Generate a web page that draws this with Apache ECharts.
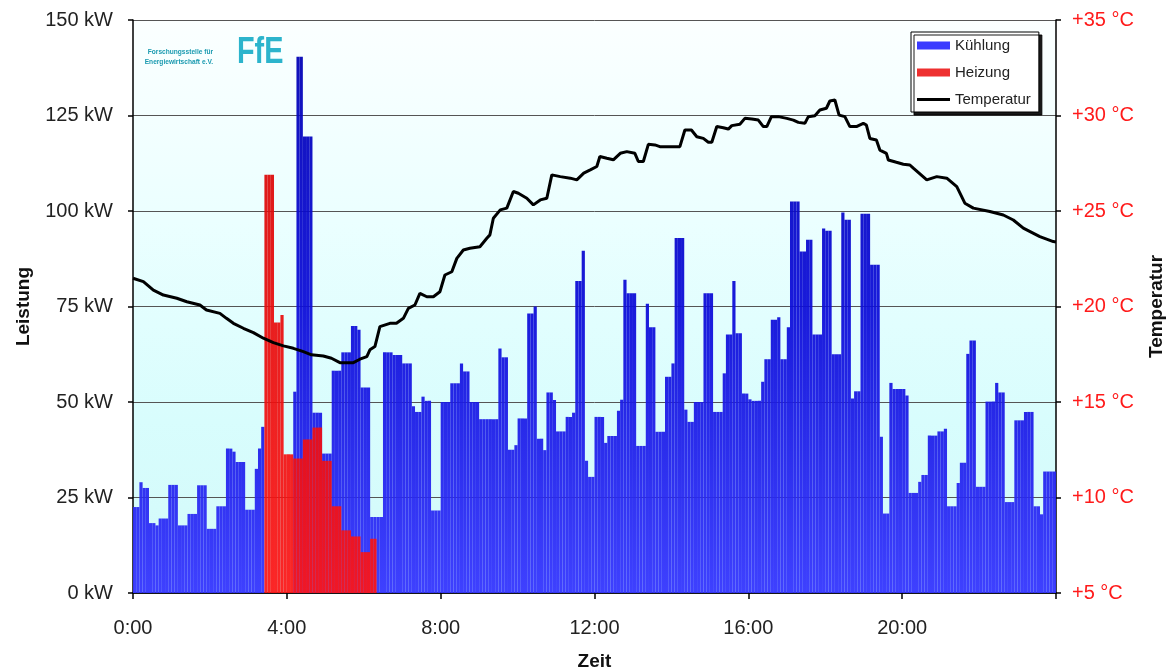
<!DOCTYPE html>
<html><head><meta charset="utf-8">
<script src="https://cdn.jsdelivr.net/npm/echarts/dist/echarts.min.js"></script>
<style>html,body{margin:0;padding:0;background:#fff}#c{width:1171px;height:672px}</style>
</head><body><div id="c"></div>
<script>
// 5-minute slots, 288 per day (one row = one hour); null = hidden behind heating bars
const kuehlung = [
  22.5,22.5,29,27.5,27.5,18.3,18.3,17.7,19.5,19.5,19.5,28.3,
  28.3,28.3,17.7,17.7,17.7,20.7,20.7,20.7,28.2,28.2,28.2,16.8,
  16.8,16.8,22.7,22.7,22.7,37.8,37.8,37,34.3,34.3,34.3,21.8,
  21.8,21.8,32.5,37.8,43.5,null,null,null,null,null,null,null,
  null,null,52.7,140.4,140.4,119.5,119.5,119.5,47.2,47.2,47.2,36.5,
  36.5,36.5,58.2,58.2,58.2,63,63,63,69.9,69.9,68.9,53.8,
  53.8,53.8,19.9,19.9,19.9,19.9,63,63,63,62.3,62.3,62.3,
  60.1,60.1,60.1,48.9,47.4,47.4,51.4,50.3,50.3,21.6,21.6,21.6,
  50,50,50,54.9,54.9,54.9,60.1,58,58,50,50,50,
  45.5,45.5,45.5,45.5,45.5,45.5,64,61.7,61.7,37.5,37.5,38.7,
  45.7,45.7,45.7,73.2,73.2,75,40.4,40.4,37.4,52.5,52.5,50.5,
  42.3,42.3,42.3,46.1,46.1,47.2,81.7,81.7,89.6,34.6,30.4,30.4,
  46.1,46.1,46.1,39.3,41.1,41.1,41.1,47.7,50.6,82,78.5,78.5,
  78.5,38.5,38.5,38.5,75.7,69.6,69.6,42.2,42.2,42.2,56.6,56.6,
  60.1,92.9,92.9,92.9,48,44.8,44.8,50,50,50,78.5,78.5,
  78.5,47.4,47.4,47.4,57.5,67.7,67.7,81.7,68,68,52.2,52.2,
  50.7,50.3,50.3,50.3,55.3,61.2,61.2,71.5,71.5,72.2,61.2,61.2,
  69.6,102.5,102.5,102.5,89.4,89.4,92.5,92.5,67.7,67.7,67.7,95.4,
  94.8,94.8,62.5,62.5,62.5,99.6,97.7,97.7,50.9,52.8,52.8,99.3,
  99.3,99.3,85.9,85.9,85.9,40.9,20.8,20.8,55,53.4,53.4,53.4,
  53.4,51.7,26.2,26.2,26.2,29.1,30.9,30.9,41.2,41.2,41.2,42.3,
  42.3,43,22.7,22.7,22.7,28.8,34.1,34.1,62.6,66.1,66.1,27.8,
  27.8,27.8,50.1,50.1,50.1,55,52.5,52.5,23.8,23.8,23.8,45.2,
  45.2,45.2,47.4,47.4,47.4,22.7,22.7,20.6,31.8,31.8,31.8,31.8
];
// Heating only between 3:25 and 6:20 (slot 41 onwards)
const heizungStartSlot = 41;
const heizung = [
  109.5,109.5,109.5,70.8,70.8,72.8,36.3,36.3,36.3,35.2,35.2,35.2,
  40.2,40.2,40.2,43.3,43.3,43.3,34.6,34.6,34.6,22.7,22.7,22.7,
  16.4,16.4,16.4,14.8,14.8,14.8,10.7,10.7,10.7,14.2,14.2
];
// Temperature (hour of day, °C)
const tempHours = [0,0.27,0.53,0.79,1.14,1.40,1.74,1.91,2.26,2.43,2.61,2.87,3.13,3.39,3.65,3.91,4.17,4.43,4.64,4.95,5.16,5.38,5.73,5.90,6.08,6.16,6.29,6.42,6.68,6.85,7.03,7.16,7.33,7.46,7.64,7.81,7.98,8.11,8.29,8.42,8.59,8.76,9.02,9.20,9.28,9.37,9.55,9.72,9.89,10.02,10.24,10.41,10.59,10.76,10.89,11.11,11.37,11.54,11.72,11.89,12.06,12.14,12.32,12.49,12.67,12.84,13.05,13.14,13.27,13.40,13.57,13.70,14.22,14.35,14.52,14.66,14.83,14.96,15.05,15.18,15.35,15.48,15.57,15.78,15.91,16.09,16.26,16.39,16.48,16.60,16.78,17.00,17.17,17.30,17.47,17.56,17.73,17.86,18.03,18.12,18.25,18.36,18.51,18.64,18.81,18.99,19.07,19.16,19.33,19.42,19.59,19.64,19.85,20.03,20.20,20.29,20.64,20.90,21.16,21.42,21.63,21.85,22.28,22.63,22.89,23.15,23.58,23.93,24.00];
const tempValues = [21.48,21.30,20.86,20.60,20.43,20.25,20.08,19.82,19.64,19.38,19.12,18.86,18.63,18.34,18.11,17.94,17.81,17.64,17.47,17.41,17.29,17.06,17.06,17.24,17.38,17.73,17.90,18.95,19.12,19.12,19.38,19.90,20.08,20.69,20.51,20.51,20.77,21.65,21.82,22.52,22.96,23.05,23.13,23.57,23.75,24.62,25.06,25.15,26.02,25.93,25.67,25.32,25.58,25.67,26.89,26.80,26.72,26.63,26.98,27.15,27.33,27.85,27.76,27.68,28.02,28.11,28.02,27.59,27.59,28.49,28.46,28.37,28.37,29.24,29.24,28.89,28.80,28.60,28.60,29.42,29.36,29.29,29.47,29.54,29.85,29.82,29.76,29.42,29.42,29.94,29.94,29.85,29.76,29.64,29.59,29.94,29.99,30.29,30.38,30.76,30.81,30.02,29.94,29.42,29.42,29.59,29.50,28.80,28.72,28.19,28.02,27.67,27.55,27.45,27.41,27.24,26.63,26.80,26.72,26.28,25.41,25.15,24.97,24.79,24.53,24.10,23.66,23.40,23.38];

const xTickLabels = ['0:00','4:00','8:00','12:00','16:00','20:00',''];

const slots = kuehlung.map((_, i) => i);
const heizungFull = kuehlung.map((_, i) => {
  const k = i - heizungStartSlot;
  return (k >= 0 && k < heizung.length) ? heizung[k] : null;
});
const tempData = tempHours.map((h, i) => [h, tempValues[i]]);

const FONT = 'Liberation Sans, Arial, sans-serif';
const chart = echarts.init(document.getElementById('c'), null, {renderer: 'canvas'});
const G = echarts.graphic;

chart.setOption({
  animation: false,
  backgroundColor: '#ffffff',
  grid: {
    left: 133, right: 115, top: 20, bottom: 79, containLabel: false, outerBoundsMode: 'none',
    show: true, borderWidth: 0,
    backgroundColor: {type: 'linear', x: 0, y: 0, x2: 0, y2: 1, colorStops: [
      {offset: 0, color: '#fbffff'}, {offset: 0.35, color: '#ebffff'},
      {offset: 0.7, color: '#d8fdfd'}, {offset: 1, color: '#d2f9f9'}]}
  },
  legend: {
    orient: 'vertical', left: 911, top: 32,
    padding: [6, 8, 5, 6], itemGap: 12, itemWidth: 33, itemHeight: 8,
    symbolKeepAspect: true,
    backgroundColor: '#ffffff', borderColor: '#000', borderWidth: 1,
    shadowColor: 'rgba(0,0,0,0.9)', shadowBlur: 0, shadowOffsetX: 3, shadowOffsetY: 3,
    textStyle: {fontFamily: FONT, fontSize: 15, color: '#222'},
    data: [
      {name: 'Kühlung', icon: 'rect', itemStyle: {color: '#3a3aff', opacity: 1}},
      {name: 'Heizung', icon: 'rect', itemStyle: {color: '#ee3030', opacity: 1}},
      {name: 'Temperatur', icon: 'path://M0 0H33V3H0Z', itemStyle: {color: '#000'}, lineStyle: {width: 0}}
    ]
  },
  xAxis: [
    {
      type: 'category', data: slots, boundaryGap: true, gridIndex: 0,
      axisLine: {show: true, lineStyle: {color: '#000', width: 1.5}},
      axisTick: {show: false}, axisLabel: {show: false}, splitLine: {show: false}
    },
    {
      type: 'value', min: 0, max: 24, interval: 4, position: 'bottom', gridIndex: 0,
      name: 'Zeit', nameLocation: 'middle', nameGap: 59,
      nameTextStyle: {fontFamily: FONT, fontSize: 19, fontWeight: 'bold', color: '#111'},
      axisLine: {show: false},
      axisTick: {show: true, length: 6, lineStyle: {color: '#000', width: 1.5}},
      axisLabel: {margin: 25, fontFamily: FONT, fontSize: 20, color: '#222',
        formatter: v => xTickLabels[Math.round(v / 4)]},
      splitLine: {show: false}
    }
  ],
  yAxis: [
    {
      type: 'value', min: 0, max: 150, interval: 25, position: 'left',
      name: 'Leistung', nameLocation: 'middle', nameGap: 100, nameRotate: 90,
      nameTextStyle: {fontFamily: FONT, fontSize: 19, fontWeight: 'bold', color: '#111'},
      axisLine: {show: true, lineStyle: {color: '#000', width: 1.5}},
      axisTick: {show: true, length: 5, lineStyle: {color: '#000', width: 1.5}},
      axisLabel: {margin: 20, fontFamily: FONT, fontSize: 20, color: '#222', formatter: '{value} kW'},
      splitLine: {show: true, lineStyle: {color: '#555', width: 1}}
    },
    {
      type: 'value', min: 5, max: 35, interval: 5, position: 'right',
      name: 'Temperatur', nameLocation: 'middle', nameGap: 91, nameRotate: 90,
      nameTextStyle: {fontFamily: FONT, fontSize: 19, fontWeight: 'bold', color: '#111'},
      axisLine: {show: true, lineStyle: {color: '#000', width: 1.5}},
      axisTick: {show: true, length: 5, lineStyle: {color: '#000', width: 1.5}},
      axisLabel: {margin: 16, fontFamily: FONT, fontSize: 20, color: '#ff1a1a', formatter: '+{value} °C'},
      splitLine: {show: false}
    }
  ],
  series: [
    {
      name: 'Kühlung', type: 'bar', xAxisIndex: 0, yAxisIndex: 0,
      barCategoryGap: '0%', barGap: '-100%',
      data: kuehlung,
      itemStyle: {opacity: 0.94, color: new G.LinearGradient(0, 20, 0, 593, [
        {offset: 0, color: '#0000b0'}, {offset: 0.5, color: '#0c0cd8'}, {offset: 1, color: '#3535ff'}], true)},
      emphasis: {disabled: true}
    },
    {
      name: 'Heizung', type: 'bar', xAxisIndex: 0, yAxisIndex: 0,
      barCategoryGap: '0%', barGap: '-100%',
      data: heizungFull,
      itemStyle: {opacity: 0.92, color: new G.LinearGradient(0, 20, 0, 593, [
        {offset: 0, color: '#d00000'}, {offset: 1, color: '#ff1414'}], true)},
      emphasis: {disabled: true}
    },
    {
      name: 'Temperatur', type: 'line', xAxisIndex: 1, yAxisIndex: 1,
      data: tempData, symbol: 'none', smooth: false, z: 5,
      lineStyle: {color: '#000', width: 3}, itemStyle: {color: '#000'},
      emphasis: {disabled: true}
    }
  ],
  graphic: [
    {type: 'text', x: 213, y: 52, z: 10, style: {text: 'Forschungsstelle für', font: 'bold 6.6px ' + FONT, fill: '#1a9ab0', align: 'right', verticalAlign: 'middle'}},
    {type: 'text', x: 213, y: 62, z: 10, style: {text: 'Energiewirtschaft e.V.', font: 'bold 6.6px ' + FONT, fill: '#1a9ab0', align: 'right', verticalAlign: 'middle'}},
    {type: 'text', x: 237, y: 53, scaleX: 0.8, z: 10, style: {text: 'FfE', font: 'bold 36px ' + FONT, fill: '#2cb4cc', align: 'left', verticalAlign: 'middle'}}
  ]
});
</script></body></html>
